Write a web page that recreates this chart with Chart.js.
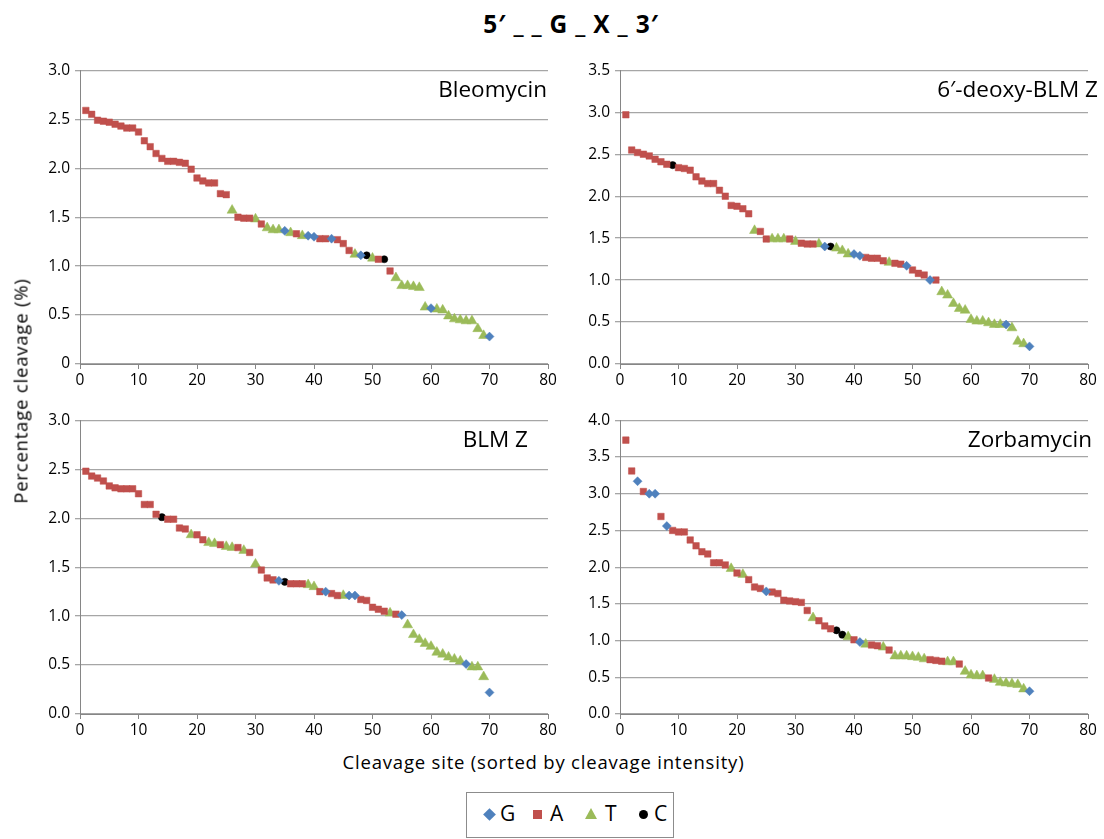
<!DOCTYPE html>
<html>
<head>
<meta charset="utf-8">
<script src="https://cdn.jsdelivr.net/npm/chart.js@4.4.1/dist/chart.umd.min.js"></script>
<style>
  body { margin: 0; background: #fff; font-family: "Open Sans", Lato, sans-serif; }
  #wrap { position: relative; width: 1104px; height: 839px; overflow: hidden; }
  canvas { position: absolute; }
  .lbl { position: absolute; color: #000; white-space: nowrap; }
  .ptitle { font-size: 22.5px; line-height: 26px; text-align: right; }
  .atitle { font-size: 18.5px; letter-spacing: 0.8px; }
  #legend { position: absolute; left: 466px; top: 792px; width: 208px; height: 46px;
            border: 1px solid #8c8c8c; box-sizing: border-box; font-size: 21px; }
  .mk { position: absolute; }
</style>
</head>
<body>
<div id="wrap">
  <div class="lbl" style="left:0;width:1142px;top:7px;text-align:center;font-size:24.5px;font-weight:bold;letter-spacing:0.8px;">5′ _ _ G _ X _ 3′</div>

  <canvas id="c1" width="530" height="340" style="left:30px;top:56px"></canvas>
  <canvas id="c2" width="530" height="340" style="left:570px;top:56px"></canvas>
  <canvas id="c3" width="530" height="340" style="left:30px;top:406px"></canvas>
  <canvas id="c4" width="530" height="340" style="left:570px;top:406px"></canvas>

  <div class="lbl ptitle" style="right:557px;top:76px">Bleomycin</div>
  <div class="lbl ptitle" style="right:6px;top:76px">6′-deoxy-BLM Z</div>
  <div class="lbl ptitle" style="right:576px;top:426px">BLM Z</div>
  <div class="lbl ptitle" style="right:12px;top:426px">Zorbamycin</div>

  <div class="lbl atitle" style="left:20px;top:391px;transform:translate(-50%,-50%) rotate(-90deg);">Percentage cleavage (%)</div>
  <div class="lbl atitle" style="left:0;width:1087px;top:749px;text-align:center;">Cleavage site (sorted by cleavage intensity)</div>

  <div id="legend">
    <div class="mk" style="left:18px;top:17px;width:9px;height:9px;background:#4F81BD;transform:rotate(45deg)"></div>
    <div class="lbl" style="left:33px;top:6px">G</div>
    <div class="mk" style="left:66px;top:17px;width:9px;height:9px;background:#C0504D"></div>
    <div class="lbl" style="left:83px;top:6px">A</div>
    <div class="mk" style="left:118px;top:15px;width:0;height:0;border-left:6px solid transparent;border-right:6px solid transparent;border-bottom:11px solid #9BBB59"></div>
    <div class="lbl" style="left:138px;top:6px">T</div>
    <div class="mk" style="left:172px;top:17px;width:9px;height:9px;border-radius:50%;background:#000"></div>
    <div class="lbl" style="left:187px;top:6px">C</div>
  </div>
</div>

<script>
"use strict";

// nucleotide at X for each cleavage site (1..70), and % cleavage values
const letters1 = "AAAAAAAAAA" + "AAAAAAAAAA" + "AAAAATAAAT" + "ATTTGTATGG" + "AAGAAATGCT" + "ACATTTTTTG" + "TTTTTTTTTG";
const vals1 = [2.59,2.55,2.49,2.48,2.47,2.45,2.43,2.41,2.41,2.37,
  2.28,2.22,2.15,2.10,2.07,2.07,2.06,2.05,1.99,1.90,
  1.87,1.85,1.85,1.74,1.73,1.57,1.50,1.49,1.49,1.48,
  1.43,1.39,1.37,1.37,1.36,1.34,1.33,1.31,1.31,1.30,
  1.28,1.28,1.28,1.27,1.23,1.16,1.12,1.11,1.11,1.08,
  1.07,1.07,0.95,0.88,0.80,0.80,0.79,0.78,0.58,0.57,
  0.56,0.55,0.49,0.46,0.45,0.44,0.44,0.36,0.29,0.28];

const letters2 = "AAAAAAAACA" + "AAAAAAAAAA" + "AATAATTTAT" + "AAATGCTTTG" + "GAAAATAAGA" + "AAGATTTTTT" + "TTTTTGTTTG";
const vals2 = [2.97,2.55,2.52,2.50,2.48,2.44,2.41,2.38,2.37,2.34,
  2.33,2.31,2.23,2.18,2.15,2.15,2.07,2.00,1.89,1.88,
  1.85,1.79,1.59,1.58,1.49,1.49,1.49,1.49,1.49,1.46,
  1.44,1.43,1.43,1.43,1.40,1.40,1.38,1.35,1.31,1.31,
  1.29,1.27,1.26,1.26,1.23,1.21,1.20,1.19,1.17,1.12,
  1.08,1.06,1.00,1.00,0.86,0.82,0.72,0.66,0.64,0.53,
  0.51,0.51,0.49,0.47,0.47,0.47,0.43,0.27,0.24,0.21];

const letters3 = "AAAAAAAAAA" + "AAACAAAATA" + "ATTATTATAT" + "AAAGCAAATT" + "AGAATGGAAA" + "AATAGTTTTT" + "TTTTTGTTTG";
const vals3 = [2.48,2.43,2.41,2.38,2.33,2.31,2.30,2.30,2.30,2.25,
  2.14,2.14,2.04,2.01,1.99,1.99,1.90,1.89,1.83,1.83,
  1.78,1.75,1.74,1.73,1.71,1.70,1.70,1.67,1.65,1.53,
  1.47,1.39,1.37,1.36,1.35,1.33,1.33,1.33,1.32,1.30,
  1.25,1.25,1.23,1.21,1.21,1.21,1.21,1.17,1.16,1.09,
  1.07,1.05,1.03,1.02,1.01,0.91,0.81,0.76,0.72,0.69,
  0.63,0.61,0.58,0.56,0.54,0.51,0.48,0.48,0.38,0.22];

const letters4 = "AAGAGGAGAA" + "AAAAAAAATA" + "TAAAGAAAAA" + "AATAAACCTA" + "GTAATATTTT" + "TTAAATTATT" + "TTATTTTTTG";
const vals4 = [3.73,3.31,3.17,3.03,3.00,3.00,2.69,2.56,2.50,2.48,
  2.48,2.37,2.29,2.21,2.18,2.06,2.06,2.03,1.98,1.92,
  1.90,1.83,1.73,1.71,1.67,1.66,1.64,1.55,1.54,1.53,
  1.52,1.41,1.31,1.27,1.20,1.16,1.14,1.08,1.05,1.01,
  0.98,0.95,0.94,0.93,0.91,0.87,0.79,0.79,0.79,0.78,
  0.77,0.75,0.74,0.73,0.72,0.71,0.71,0.68,0.58,0.53,
  0.52,0.52,0.49,0.47,0.43,0.42,0.41,0.40,0.34,0.31];

// axis tick labels
const xTicks = [0, 10, 20, 30, 40, 50, 60, 70, 80];
const yTicks1 = ['0', '0.5', '1.0', '1.5', '2.0', '2.5', '3.0'];
const yTicks2 = ['0.0', '0.5', '1.0', '1.5', '2.0', '2.5', '3.0', '3.5'];
const yTicks3 = ['0.0', '0.5', '1.0', '1.5', '2.0', '2.5', '3.0'];
const yTicks4 = ['0.0', '0.5', '1.0', '1.5', '2.0', '2.5', '3.0', '3.5', '4.0'];

const bases = ['G', 'A', 'T', 'C'];
const baseStyle = {
  G: { color: '#4F81BD', shape: 'rectRot', r: 4.5 },
  A: { color: '#C0504D', shape: 'rect', r: 4.6 },
  T: { color: '#9BBB59', shape: 'triangle', r: 5.8 },
  C: { color: '#000000', shape: 'circle', r: 3.6 }
};

const FONT = '"Open Sans", Lato, sans-serif';
const GRID = '#a6a6a6';

function makePanel(id, letters, vals, yLabels, padTop) {
  const datasets = bases.map(b => {
    const pts = [];
    for (let i = 0; i < vals.length; i++) {
      if (letters[i] === b) pts.push({ x: i + 1, y: vals[i] });
    }
    const s = baseStyle[b];
    return {
      label: b,
      data: pts,
      pointStyle: s.shape,
      pointRadius: s.r,
      pointHoverRadius: s.r,
      backgroundColor: s.color,
      borderColor: s.color,
      borderWidth: 0.5,
      showLine: false
    };
  });

  const yMax = (yLabels.length - 1) * 0.5;

  return new Chart(document.getElementById(id).getContext('2d'), {
    type: 'scatter',
    data: { datasets: datasets },
    options: {
      responsive: false,
      animation: false,
      layout: { padding: { top: padTop, right: 12, left: 0, bottom: 0 } },
      plugins: { legend: { display: false }, tooltip: { enabled: false }, title: { display: false } },
      scales: {
        x: {
          type: 'linear', min: xTicks[0], max: xTicks[xTicks.length - 1],
          afterBuildTicks: sc => { sc.ticks = xTicks.map(v => ({ value: v })); },
          afterFit: sc => { sc.height = 32; },
          grid: { display: true, drawOnChartArea: false, drawTicks: true, tickLength: 5, color: '#868686' },
          border: { display: true, color: '#868686', width: 1 },
          ticks: { color: '#000', font: { family: FONT, size: 15.5 }, padding: 2, maxRotation: 0 }
        },
        y: {
          type: 'linear', min: 0, max: yMax,
          afterBuildTicks: sc => { sc.ticks = yLabels.map((t, i) => ({ value: i * 0.5 })); },
          afterFit: sc => { sc.width = 50; },
          grid: { color: GRID, lineWidth: 1.3, drawTicks: true, tickLength: 5 },
          border: { display: true, color: '#868686', width: 1 },
          ticks: {
            color: '#000', font: { family: FONT, size: 15.5 }, padding: 5,
            callback: (v, i) => yLabels[i]
          }
        }
      }
    }
  });
}

makePanel('c1', letters1, vals1, yTicks1, 10);
makePanel('c2', letters2, vals2, yTicks2, 11);
makePanel('c3', letters3, vals3, yTicks3, 11);
makePanel('c4', letters4, vals4, yTicks4, 11);
</script>
</body>
</html>
